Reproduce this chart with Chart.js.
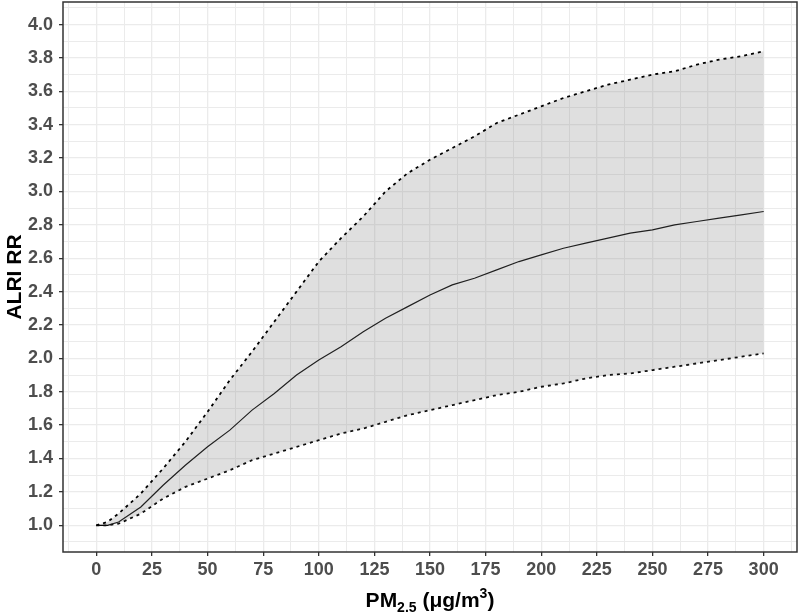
<!DOCTYPE html>
<html>
<head>
<meta charset="utf-8">
<script src="https://cdn.jsdelivr.net/npm/chart.js@4.4.0/dist/chart.umd.min.js"></script>
<style>
  html, body { margin: 0; padding: 0; background: #fff; }
  #wrap { width: 800px; height: 615px; }
</style>
</head>
<body>
<div id="wrap"><canvas id="myChart" width="800" height="615"></canvas></div>
<script>
// PM2.5 concentration (x) and ALRI relative risk
const pm25 = [0, 5, 10, 20, 30, 40, 50, 60, 70, 80, 90, 100, 110, 120, 130, 140, 150,
  160, 170, 180, 190, 200, 210, 220, 230, 240, 250, 260, 270, 280, 290, 300];
const rrMean = [1.00, 1.00, 1.02, 1.11, 1.24, 1.36, 1.47, 1.57, 1.69, 1.79, 1.90, 1.99,
  2.07, 2.16, 2.24, 2.31, 2.38, 2.44, 2.48, 2.53, 2.58, 2.62, 2.66, 2.69, 2.72, 2.75,
  2.77, 2.80, 2.82, 2.84, 2.86, 2.88];
const rrUpper = [1.00, 1.02, 1.07, 1.19, 1.34, 1.50, 1.68, 1.87, 2.04, 2.22, 2.40, 2.58,
  2.72, 2.85, 3.00, 3.11, 3.19, 3.26, 3.33, 3.41, 3.46, 3.51, 3.56, 3.60, 3.64, 3.67,
  3.70, 3.72, 3.76, 3.79, 3.81, 3.84];
const rrLower = [1.00, 1.00, 1.01, 1.07, 1.16, 1.23, 1.28, 1.33, 1.39, 1.43, 1.47, 1.51,
  1.55, 1.58, 1.62, 1.66, 1.69, 1.72, 1.75, 1.78, 1.80, 1.83, 1.85, 1.88, 1.90, 1.91,
  1.93, 1.95, 1.97, 1.99, 2.01, 2.03];

const xTicks = [0, 25, 50, 75, 100, 125, 150, 175, 200, 225, 250, 275, 300];
const yTicks = [1.0, 1.2, 1.4, 1.6, 1.8, 2.0, 2.2, 2.4, 2.6, 2.8, 3.0, 3.2, 3.4, 3.6, 3.8, 4.0];

const toPoints = (ys) => pm25.map((x, i) => ({ x: x, y: ys[i] }));
const isMajorX = (v) => xTicks.some((t) => Math.abs(t - v) < 1e-6);
const isMajorY = (v) => yTicks.some((t) => Math.abs(t - v) < 1e-6);

const FONT = "'Liberation Sans', Arial, Helvetica, sans-serif";
const INK = "#333333";

// panel border + x axis title with sub/superscript
const panelPlugin = {
  id: "panel",
  afterDatasetsDraw(chart) {
    const { ctx, chartArea: a } = chart;
    ctx.save();
    ctx.strokeStyle = INK;
    ctx.lineWidth = 1.5;
    ctx.strokeRect(a.left, a.top, a.right - a.left, a.bottom - a.top);
    ctx.restore();
  },
  afterDraw(chart) {
    const { ctx, chartArea: a } = chart;
    const big = "bold 21px " + FONT;
    const small = "bold 14px " + FONT;
    const parts = [
      { t: "PM", f: big, dy: 0 },
      { t: "2.5", f: small, dy: 5 },
      { t: " (\u03bcg/m", f: big, dy: 0 },
      { t: "3", f: small, dy: -9 },
      { t: ")", f: big, dy: 0 },
    ];
    ctx.save();
    ctx.fillStyle = "#000";
    ctx.textBaseline = "alphabetic";
    ctx.textAlign = "left";
    let total = 0;
    parts.forEach((p) => { ctx.font = p.f; p.w = ctx.measureText(p.t).width; total += p.w; });
    let x = (a.left + a.right) / 2 - total / 2;
    const base = 607;
    parts.forEach((p) => { ctx.font = p.f; ctx.fillText(p.t, x, base + p.dy); x += p.w; });
    ctx.restore();
  },
};

new Chart(document.getElementById("myChart"), {
  type: "line",
  data: {
    datasets: [
      {
        label: "Upper",
        data: toPoints(rrUpper),
        borderColor: "#000",
        borderWidth: 1.8,
        borderDash: [3, 4],
        pointRadius: 0,
        tension: 0,
        fill: "+1",
        backgroundColor: "rgba(128,128,128,0.25)",
      },
      {
        label: "Lower",
        data: toPoints(rrLower),
        borderColor: "#000",
        borderWidth: 1.8,
        borderDash: [3, 4],
        pointRadius: 0,
        tension: 0,
        fill: false,
      },
      {
        label: "ALRI RR",
        data: toPoints(rrMean),
        borderColor: "#000",
        borderWidth: 1.2,
        pointRadius: 0,
        tension: 0,
        fill: false,
      },
    ],
  },
  options: {
    responsive: false,
    animation: false,
    layout: { padding: { left: 0, right: 3, top: 2, bottom: 0 } },
    plugins: { legend: { display: false }, tooltip: { enabled: false } },
    scales: {
      x: {
        type: "linear",
        min: -15,
        max: 315,
        afterFit: (s) => { s.height = 63; s.paddingLeft = 0; s.paddingRight = 0; },
        border: { display: false },
        grid: {
          color: "#ebebeb",
          lineWidth: (c) => (isMajorX(c.tick.value) ? 1.3 : 1),
          tickLength: 4,
          tickColor: (c) => (isMajorX(c.tick.value) ? INK : "rgba(0,0,0,0)"),
        },
        ticks: {
          stepSize: 12.5,
          includeBounds: false,
          autoSkip: false,
          maxRotation: 0,
          padding: 3,
          color: "#4d4d4d",
          font: { family: FONT, size: 18, weight: "bold" },
          callback: (v) => (isMajorX(v) ? String(v) : ""),
        },
      },
      y: {
        min: 0.84,
        max: 4.135,
        afterFit: (s) => { s.width = 63; s.paddingTop = 0; s.paddingBottom = 0; },
        border: { display: false },
        title: {
          display: true,
          text: "ALRI RR",
          color: "#000",
          padding: { top: 3, bottom: 0 },
          font: { family: FONT, size: 21, weight: "bold" },
        },
        grid: {
          color: "#ebebeb",
          lineWidth: (c) => (isMajorY(c.tick.value) ? 1.3 : 1),
          tickLength: 4,
          tickColor: (c) => (isMajorY(c.tick.value) ? INK : "rgba(0,0,0,0)"),
        },
        ticks: {
          stepSize: 0.1,
          includeBounds: false,
          autoSkip: false,
          padding: 6,
          color: "#4d4d4d",
          font: { family: FONT, size: 18, weight: "bold" },
          callback: (v) => (isMajorY(v) ? Number(v).toFixed(1) : ""),
        },
      },
    },
  },
  plugins: [panelPlugin],
});
</script>
</body>
</html>
